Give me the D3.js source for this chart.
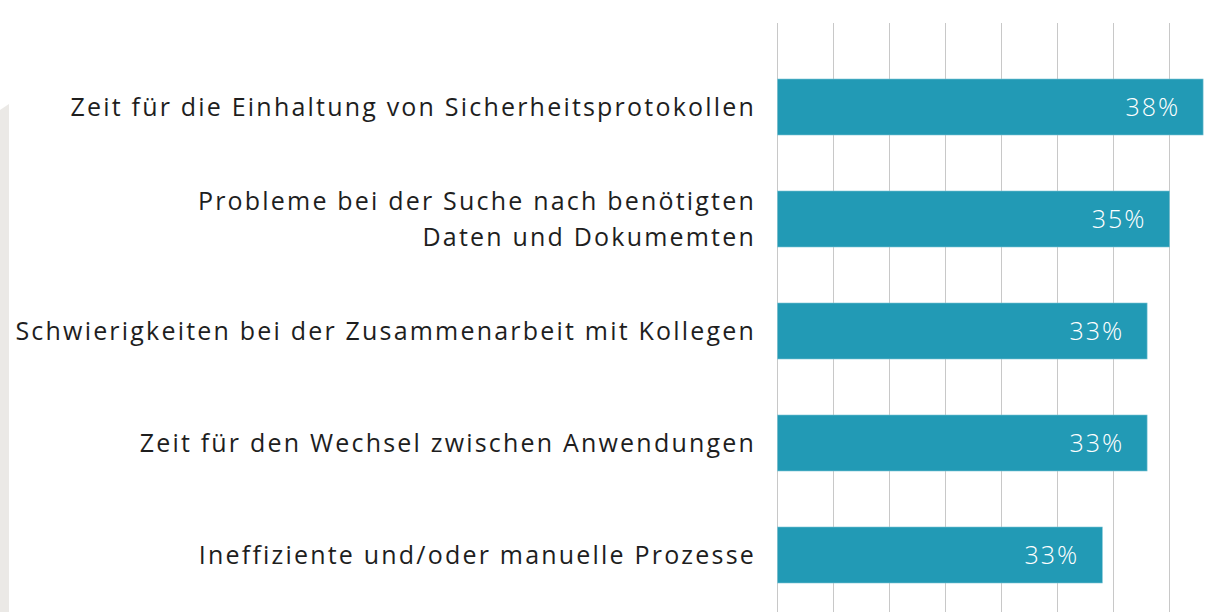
<!DOCTYPE html>
<html>
<head>
    <script src="https://d3js.org/d3.v7.min.js"></script>
    <style>
        body { margin: 0; background: #fff; }
        .label text { font-family: "Open Sans", sans-serif; font-size: 25px; fill: #1e1e1e; letter-spacing: 2.2px; }
        .value { font-family: "Open Sans", sans-serif; font-size: 25px; fill: #fff; font-weight: 300; letter-spacing: 2px; }
    </style>
</head>
<body>
    <svg width="1218" height="612"></svg>

    <script>
        const svg = d3.select("svg"),
              width = 1218, height = 612;

        // Data (bar length vs. printed label)
        const categories = [
            ["Zeit für die Einhaltung von Sicherheitsprotokollen"],
            ["Probleme bei der Suche nach benötigten", "Daten und Dokumemten"],
            ["Schwierigkeiten bei der Zusammenarbeit mit Kollegen"],
            ["Zeit für den Wechsel zwischen Anwendungen"],
            ["Ineffiziente und/oder manuelle Prozesse"]
        ];
        const values = [38, 35, 33, 33, 29];
        const valueLabels = ["38%", "35%", "33%", "33%", "33%"];
        const gridTicks = [0, 5, 10, 15, 20, 25, 30, 35];

        const x = d3.scaleLinear().domain([0, 35]).range([777.5, 1169.5]);
        const y = d3.scaleBand().domain(d3.range(values.length))
            .range([51, 611]).paddingInner(0.5).paddingOuter(0.25);

        // left grey strip
        svg.append("path")
            .attr("d", "M0,110 L9,104 L9,612 L0,612 Z")
            .attr("fill", "#ebe9e6");

        // gridlines
        svg.append("g").selectAll("line")
            .data(gridTicks)
            .enter().append("line")
            .attr("x1", d => x(d)).attr("x2", d => x(d))
            .attr("y1", 23).attr("y2", height)
            .attr("stroke", "#c8c8c8")
            .attr("stroke-width", 1);

        // bars
        svg.append("g").selectAll("rect")
            .data(values)
            .enter().append("rect")
            .attr("x", x(0))
            .attr("y", (d, i) => y(i))
            .attr("width", d => x(d) - x(0))
            .attr("height", y.bandwidth())
            .attr("fill", "#229ab5")
            .attr("stroke", "#7cc4d4")
            .attr("stroke-width", 0.6);

        // value labels
        svg.append("g").selectAll("text")
            .data(values)
            .enter().append("text")
            .attr("class", "value")
            .attr("x", d => x(d) - 23)
            .attr("y", (d, i) => y(i) + y.bandwidth() / 2)
            .attr("dy", "0.35em")
            .attr("text-anchor", "end")
            .text((d, i) => valueLabels[i]);

        // category labels
        const lineH = 36.5;
        const labels = svg.append("g").attr("class", "label");
        categories.forEach((lines, i) => {
            const cy = y(i) + y.bandwidth() / 2;
            const t = labels.append("text")
                .attr("text-anchor", "end")
                .attr("y", cy - (lines.length - 1) * lineH / 2);
            lines.forEach((ln, j) => {
                t.append("tspan")
                    .attr("x", 756)
                    .attr("dy", j === 0 ? "0.35em" : lineH)
                    .text(ln);
            });
        });
    </script>
</body>
</html>
